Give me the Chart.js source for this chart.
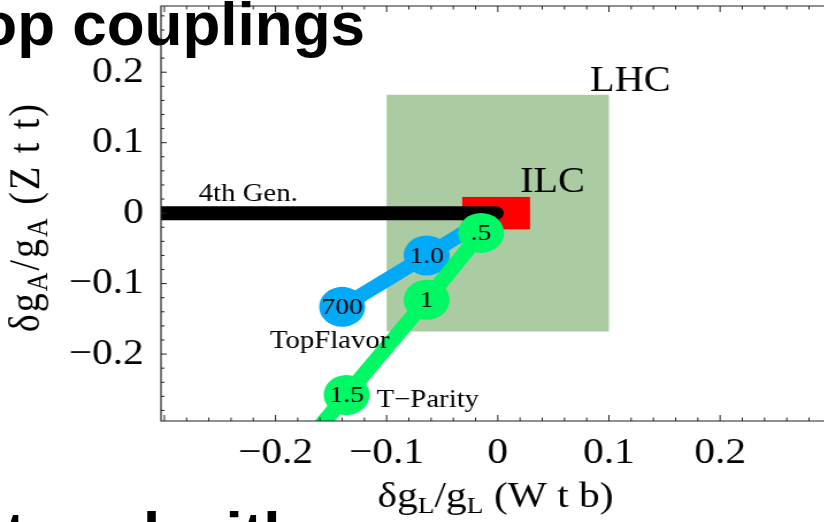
<!DOCTYPE html>
<html>
<head>
<meta charset="utf-8">
<script src="https://cdn.jsdelivr.net/npm/chart.js@4.4.1/dist/chart.umd.min.js"></script>
<style>
  html, body { margin: 0; padding: 0; background: #fff; }
  body { position: relative; width: 824px; height: 522px; overflow: hidden; }
  #wrap { position: absolute; left: 0; top: 0; width: 717px; height: 522px; transform: scaleX(1.15); transform-origin: 0 0; }
  .slide { position: absolute; font-family: "Liberation Sans", Arial, sans-serif; font-weight: bold; font-size: 62px; line-height: 62px; color: #000; white-space: nowrap; }
  #title { right: 459px; top: -7px; }
  #next { top: 503px; left: 0; }
</style>
</head>
<body>
<div id="wrap"><canvas id="chart" width="717" height="522"></canvas></div>
<div class="slide" id="title">Top couplings</div>
<div class="slide" id="next">captured with</div>
<script>
// couplings
const gen4X = [-0.32, -0.002]
const gen4Y = [0, 0]
const topFlavorX = [-0.140, -0.064, -0.006]
const topFlavorY = [-0.133, -0.060, -0.004]
const topFlavorTags = ["700", "1.0", ""]
const tParityX = [-0.015, -0.064, -0.136, -0.175]
const tParityY = [-0.028, -0.123, -0.258, -0.331]
const tParityTags = [".5", "1", "1.5", ""]
const lhcX = [-0.1, 0.1]
const lhcY = [-0.168, 0.168]
const ilcX = [-0.032, 0.029]
const ilcY = [-0.023, 0.023]
const xLabels = [-0.2, -0.1, 0, 0.1, 0.2]
const yLabels = [-0.2, -0.1, 0, 0.1, 0.2]
const noteText = ["4th Gen.", "LHC", "ILC", "TopFlavor", "T\u2212Parity"]
const noteX = [-0.269, 0.083, 0.020, -0.205, -0.109]
const noteY = [0.017, 0.174, 0.030, -0.191, -0.275]

const serif = '"Liberation Serif", "Times New Roman", serif'
const blue = "#00aaf6"
const green = "#00f864"

const pts = (xs, ys) => xs.map((x, i) => ({ x, y: ys[i] }))

const fmt = v => {
  if (Math.abs(v) < 1e-9) return "0"
  return v < 0 ? "\u2212" + (-v) : String(v)
}

// text with subscripts: parts of [text, isSub]
function drawParts(ctx, parts, size) {
  const subSize = Math.round(size * 0.68)
  let w = 0
  parts.forEach(([t, sub]) => {
    ctx.font = (sub ? subSize : size) + "px " + serif
    w += ctx.measureText(t).width
  })
  let x = -w / 2
  parts.forEach(([t, sub]) => {
    ctx.font = (sub ? subSize : size) + "px " + serif
    ctx.fillText(t, x, sub ? size * 0.18 : 0)
    x += ctx.measureText(t).width
  })
}

const framePlugin = {
  id: "frame",
  beforeDatasetsDraw(chart) {
    const { ctx, scales: { x, y } } = chart
    ctx.save()
    const box = (bx, by, color) => {
      const l = x.getPixelForValue(bx[0]), r = x.getPixelForValue(bx[1])
      const t = y.getPixelForValue(by[1]), b = y.getPixelForValue(by[0])
      ctx.fillStyle = color
      ctx.fillRect(l, t, r - l, b - t)
    }
    box(lhcX, lhcY, "#abcca3")
    box(ilcX, ilcY, "#ff0000")
    ctx.restore()
  },
  afterDatasetsDraw(chart) {
    const { ctx, chartArea: a, scales: { x, y } } = chart
    ctx.save()

    // frame with inward ticks
    ctx.strokeStyle = "#222"
    ctx.lineWidth = 1.2
    ctx.beginPath()
    ctx.moveTo(a.right + 2, a.top)
    ctx.lineTo(a.left, a.top)
    ctx.lineTo(a.left, a.bottom)
    ctx.lineTo(a.right + 2, a.bottom)
    ctx.stroke()
    ctx.lineWidth = 1
    ctx.beginPath()
    for (let k = -15; k <= 15; k++) {
      const px = x.getPixelForValue(k * 0.02)
      if (px < a.left + 1 || px > a.right) continue
      const len = k % 5 === 0 ? 6 : 3.5
      ctx.moveTo(px, a.bottom); ctx.lineTo(px, a.bottom - len)
      ctx.moveTo(px, a.top); ctx.lineTo(px, a.top + len)
    }
    for (let k = -15; k <= 15; k++) {
      const py = y.getPixelForValue(k * 0.02)
      if (py < a.top + 1 || py > a.bottom - 1) continue
      const len = k % 5 === 0 ? 5 : 3
      ctx.moveTo(a.left, py); ctx.lineTo(a.left + len, py)
    }
    ctx.stroke()

    // tags inside the circles
    ctx.fillStyle = "#000"
    ctx.textAlign = "center"
    ctx.textBaseline = "middle"
    ctx.font = "24px " + serif
    const tag = (xs, ys, tags) => tags.forEach((t, i) => {
      if (t) ctx.fillText(t, x.getPixelForValue(xs[i]), y.getPixelForValue(ys[i]) + 1)
    })
    tag(topFlavorX, topFlavorY, topFlavorTags)
    tag(tParityX, tParityY, tParityTags)

    // annotations
    ctx.textAlign = "left"
    ctx.textBaseline = "alphabetic"
    noteText.forEach((t, i) => {
      ctx.font = (t === "LHC" || t === "ILC" ? 35 : 25) + "px " + serif
      ctx.fillText(t, x.getPixelForValue(noteX[i]), y.getPixelForValue(noteY[i]))
    })

    // axis titles
    ctx.save()
    ctx.translate(x.getPixelForValue(0) - 2, 507)
    drawParts(ctx, [["\u03b4g", false], ["L", true], ["/g", false], ["L", true], [" (W t b)", false]], 36)
    ctx.restore()
    ctx.save()
    ctx.translate(34, y.getPixelForValue(0) + 4)
    ctx.rotate(-Math.PI / 2)
    ctx.letterSpacing = "2px"
    drawParts(ctx, [["\u03b4g", false], ["A", true], ["/g", false], ["A", true], [" (Z t t)", false]], 38)
    ctx.restore()

    ctx.restore()
  }
}

const lineSet = (xs, ys, color, radii, order) => ({
  data: pts(xs, ys),
  showLine: true,
  borderColor: color,
  backgroundColor: color,
  borderWidth: 14,
  borderCapStyle: "round",
  borderJoinStyle: "round",
  pointRadius: radii,
  pointBorderWidth: 0,
  pointHoverRadius: radii,
  clip: 0,
  order
})

new Chart(document.getElementById("chart"), {
  type: "scatter",
  data: {
    datasets: [
      lineSet(tParityX, tParityY, green, [20, 20, 20, 0], 1),
      lineSet(gen4X, gen4Y, "#000", [0, 0], 2),
      lineSet(topFlavorX, topFlavorY, blue, [20, 20, 0], 3)
    ]
  },
  options: {
    responsive: false,
    animation: false,
    devicePixelRatio: 1,
    events: [],
    layout: { autoPadding: false, padding: { top: 6, left: 0, right: 0, bottom: 0 } },
    plugins: { legend: { display: false }, tooltip: { enabled: false } },
    scales: {
      x: {
        type: "linear",
        min: -0.303,
        max: 0.294,
        grid: { display: false, drawTicks: false },
        border: { display: false },
        afterBuildTicks: s => { s.ticks = xLabels.map(value => ({ value })) },
        ticks: {
          autoSkip: false,
          maxRotation: 0,
          padding: 11,
          color: "#000",
          font: { family: serif, size: 36 },
          callback: fmt
        },
        afterFit: s => { s.height = 101; s.paddingLeft = 0; s.paddingRight = 0 }
      },
      y: {
        type: "linear",
        min: -0.295,
        max: 0.294,
        grid: { display: false, drawTicks: false },
        border: { display: false },
        afterBuildTicks: s => { s.ticks = yLabels.map(value => ({ value })) },
        ticks: {
          autoSkip: false,
          padding: 15,
          color: "#000",
          font: { family: serif, size: 36 },
          callback: fmt
        },
        afterFit: s => { s.width = 140; s.paddingTop = 0; s.paddingBottom = 0 }
      }
    }
  },
  plugins: [framePlugin]
})

// slide text below the chart is cut at the left edge
const m = document.createElement("canvas").getContext("2d")
m.font = 'bold 62px "Liberation Sans"'
document.getElementById("next").style.left = (5 - m.measureText("cap").width) + "px"
</script>
</body>
</html>
